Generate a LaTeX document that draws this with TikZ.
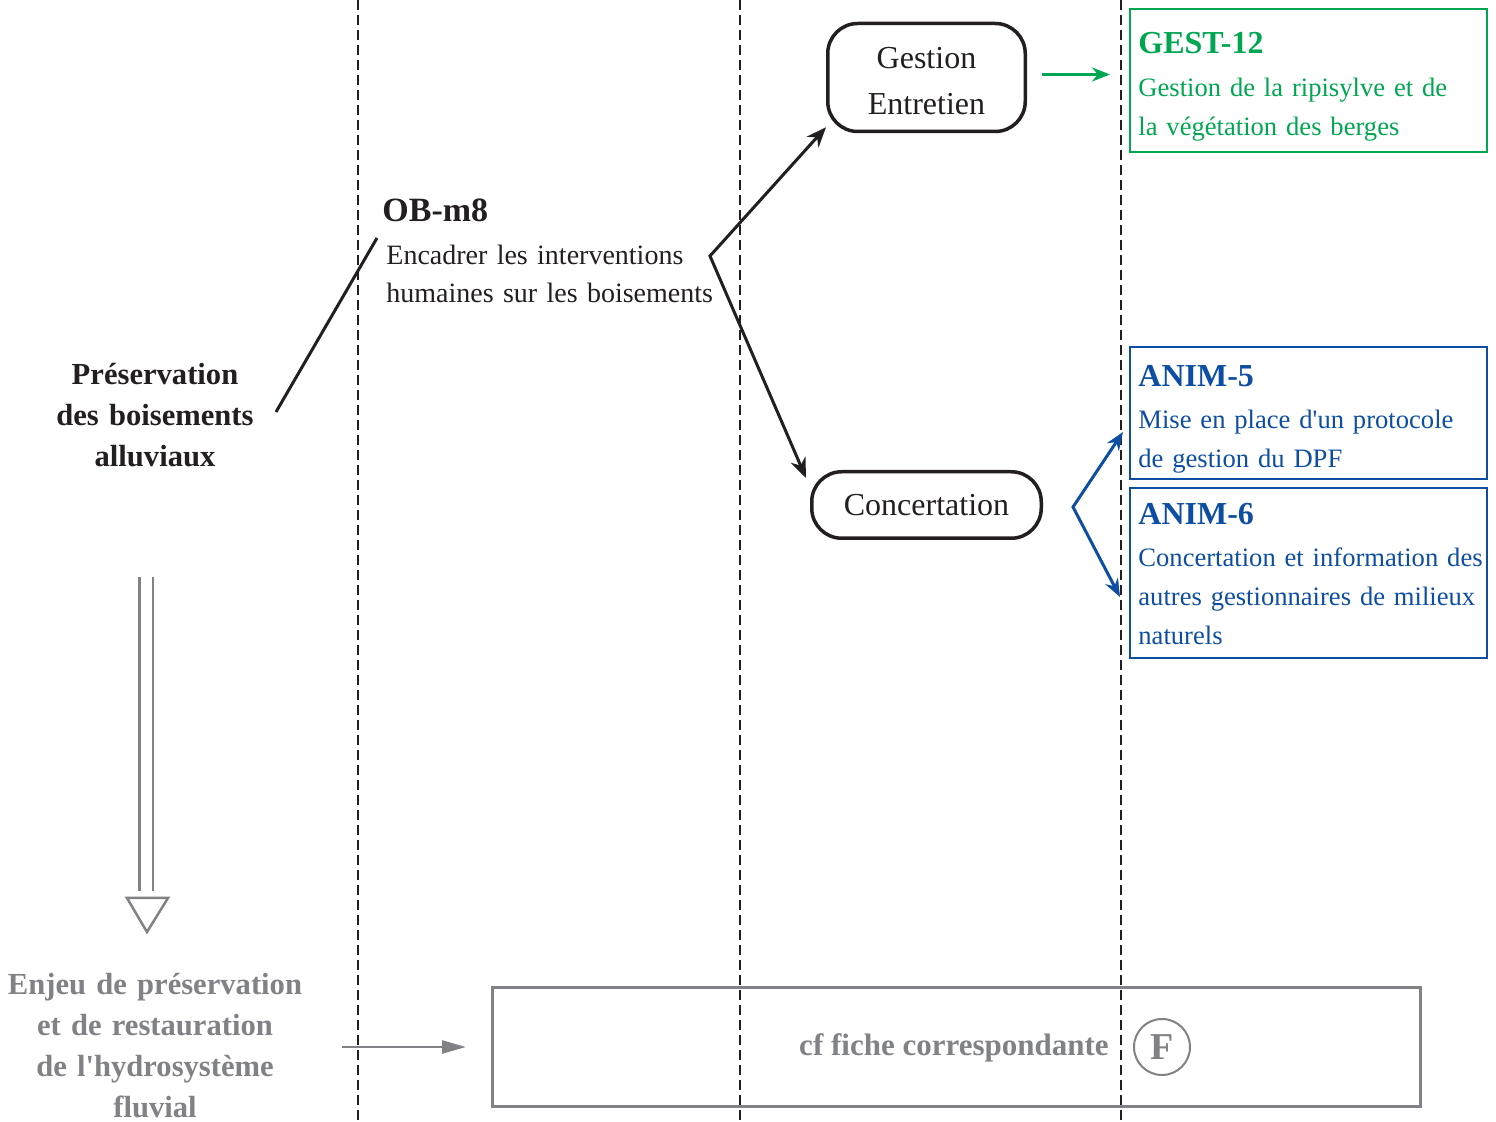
\documentclass[tikz,border=0pt]{standalone}
\usepackage{fontspec}
\setmainfont{Liberation Serif}
\newfontfamily\aposfont{Liberation Serif}
\newcommand\ap{{\aposfont'}}
\usetikzlibrary{arrows.meta}
\definecolor{ink}{HTML}{231F20}
\definecolor{vert}{HTML}{00A651}
\definecolor{bleu}{HTML}{0D4EA2}
\definecolor{gris}{HTML}{808285}
\newcommand\ftitle{\fontsize{16}{19.5}\selectfont\bfseries}
\begin{document}
\begin{tikzpicture}[x=0.5pt,y=-0.5pt,
  sep/.style={ink, line width=1pt, dash pattern=on 5pt off 2.5pt},
  codebox/.style={draw, line width=1pt, minimum width=178.5pt, inner sep=0},
  codetext/.style={anchor=base west, inner sep=0, text width=200pt, align=left,
     font=\fontsize{13.3}{19.5}\selectfont},
  rbox/.style={draw=ink, line width=1.75pt, rounded corners=15pt, text=ink,
     font=\fontsize{16}{23}\selectfont, align=center, inner sep=0},
  conn/.style={ink, line width=1.5pt},
  arr/.style={conn, {Stealth[length=10pt,width=8pt]}-{Stealth[length=10pt,width=8pt]}},
  garr/.style={vert, line width=1.5pt, -{Stealth[length=9pt,width=7pt]}},
  barr/.style={bleu, line width=1.5pt, {Stealth[length=9pt,width=7pt]}-{Stealth[length=9pt,width=7pt]}},
  grarr/.style={gris, line width=1.25pt, -{Triangle[length=12pt,width=6.5pt]}},
  boldc/.style={anchor=base, inner sep=0, align=center, font=\fontsize{15.3}{20.5}\selectfont\bfseries}
]
\useasboundingbox (0,0) rectangle (1496,1122);
\fill[white] (0,0) rectangle (1496,1122);

% separators
\draw[sep] (358,0) -- (358,1122);
\draw[sep] (740,0) -- (740,1122);
\draw[sep] (1121,0) -- (1121,1122);

% left column
\node[boldc, text=ink, text width=130pt] (pres) at (155,385) {Préservation\\des boisements\\alluviaux};
\node[boldc, text=gris, text width=160pt] (enjeu) at (155,995) {Enjeu de préservation\\et de restauration\\de l\ap hydrosystème\\fluvial};

% objective
\node[anchor=base west, inner sep=0, text=ink, font=\fontsize{17}{20}\selectfont\bfseries] (ob) at (382,222) {OB-m8};
\node[anchor=base west, inner sep=0, text=ink, text width=175pt, align=left, font=\fontsize{14}{19}\selectfont] (obt) at (386,265) {Encadrer les interventions\\humaines sur les boisements};

% rounded boxes
\node[rbox, minimum width=98.75pt, minimum height=54pt, text width=95pt] (gest) at (926.5,77.5) {\rule{0pt}{14pt}Gestion\\Entretien};
\node[rbox, minimum width=114.75pt, minimum height=33.25pt] (conc) at (926.5,505) {Concertation};

% code boxes
\node[codebox, draw=vert, minimum height=71.5pt] (g12) at (1308.5,80.5) {};
\node[codetext, text=vert] (g12t) at (1138,54) {{\ftitle GEST-12}\\[2pt]Gestion de la ripisylve et de\\la végétation des berges};
\node[codebox, draw=bleu, minimum height=66pt] (a5) at (1308.5,413) {};
\node[codetext, text=bleu] (a5t) at (1138,387) {{\ftitle ANIM-5}\\[1.5pt]Mise en place d\ap un protocole\\de gestion du DPF};
\node[codebox, draw=bleu, minimum height=85pt] (a6) at (1308.5,573) {};
\node[codetext, text=bleu] (a6t) at (1138,525) {{\ftitle ANIM-6}\\[1.5pt]Concertation et information des\\autres gestionnaires de milieux\\naturels};

% bottom box
\node[draw=gris, line width=1.5pt, minimum width=464pt, minimum height=59.5pt, inner sep=0] (cf) at (956.5,1047) {};
\node[anchor=base east, inner sep=0, text=gris, font=\fontsize{15.5}{18}\selectfont\bfseries] (cft) at (1109,1056) {cf fiche correspondante};
\node[circle, draw=gris, line width=1pt, minimum size=28pt, inner sep=0, text=gris, font=\fontsize{19}{20}\selectfont\bfseries] (F) at (1162,1047) {F};

% connectors
\draw[conn] ([shift={(121,27)}]pres.base) -- ([shift={(-5,16)}]ob.base west);
\coordinate (fork) at (710,256);
\draw[arr] ([yshift=3pt]gest.south west) -- (fork) -- ([shift={(-4,8)}]conc.north west);
\draw[garr] ([shift={(15,-3)}]gest.east) -- ([shift={(-19,-6)}]g12.west);
\coordinate (fork2) at (1073,507);
\draw[barr] ([shift={(-6,19)}]a5.west) -- (fork2) -- ([shift={(-9,24)}]a6.west);

% big downward arrow
\draw[gris, line width=1.25pt, double=white, double distance=5.5pt] ([shift={(-9,192)}]pres.base) -- ([shift={(-9,-104)}]enjeu.base);
\draw[gris, line width=1.25pt, line join=miter] (127,898) -- (168,898) -- (147,932) -- cycle;

% arrow to bottom box
\draw[grarr] ([shift={(-149,0)}]cf.west) -- ([shift={(-25,0)}]cf.west);
\end{tikzpicture}
\end{document}
